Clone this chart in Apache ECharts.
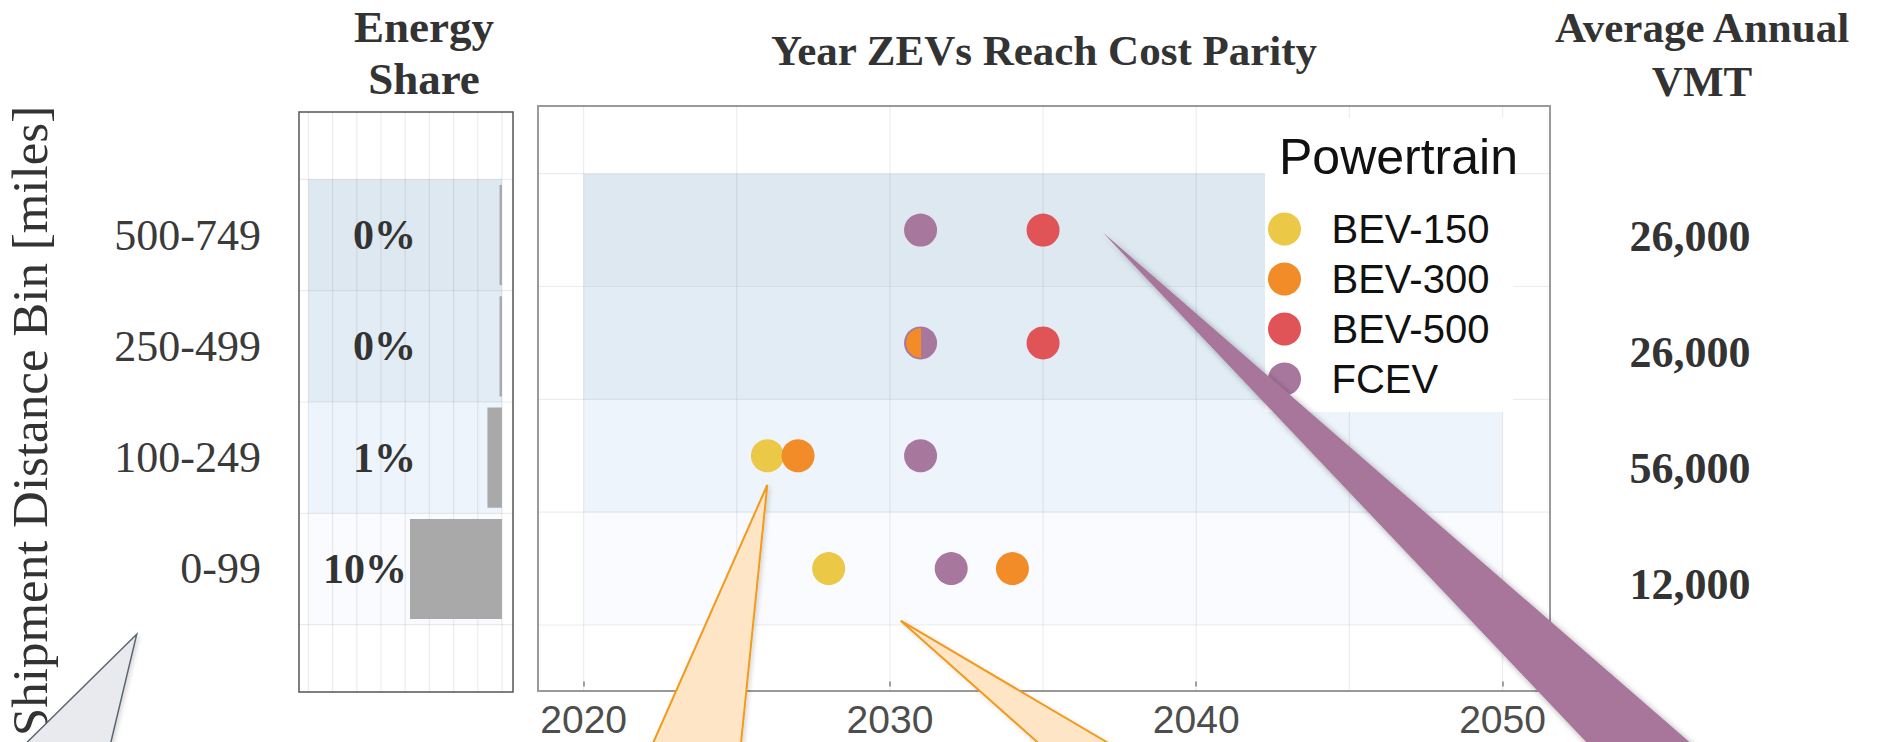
<!DOCTYPE html>
<html>
<head>
<meta charset="utf-8">
<script src="https://cdn.jsdelivr.net/npm/echarts@6/dist/echarts.min.js"></script>
<style>html,body{margin:0;padding:0;background:#fff}#c{width:1887px;height:742px}</style>
</head>
<body>
<div id="c"></div>
<script>
// ---- data ----
const bins = ['0-99', '100-249', '250-499', '500-749'];
const energyShare = [9.5, 1.5, 0.25, 0.25];          // % per bin (bar lengths)
const energyLabels = ['10%', '1%', '0%', '0%'];
const vmtLabels = ['12,000', '56,000', '26,000', '26,000'];
const powertrains = ['BEV-150', 'BEV-300', 'BEV-500', 'FCEV'];
const parityBEV150 = [[2026, '100-249'], [2028, '0-99']];
const parityBEV300 = [[2027, '100-249'], [2034, '0-99'], [2031, '250-499']];
const parityBEV500 = [[2035, '500-749'], [2035, '250-499']];
const parityFCEV = [[2031, '500-749'], [2031, '250-499'], [2031, '100-249'], [2032, '0-99']];
const yearTicks = [2020, 2030, 2040, 2050];
const yearGrid = [2020, 2025, 2030, 2035, 2040, 2045, 2050];
const shareGrid = [0, 2.5, 5, 7.5, 10, 12.5, 15, 17.5, 20];
const binGrid = [0.5, 1.5, 2.5, 3.5, 4.5];
const yearBandRange = [2020, 2050];
const shareBandRange = [0, 20];

// ---- styles ----
const colors = {'BEV-150': '#ebc846', 'BEV-300': '#f28c28', 'BEV-500': '#e05458', 'FCEV': '#a8779e'};
const bandColors = ['#f9fbfe', '#edf4fb', '#e1ecf5', '#dde8f1'];
const serif = '"Liberation Serif", "DejaVu Serif", serif';
const sans = '"Liberation Sans", Arial, sans-serif';
const gridLineColor = 'rgba(0,0,0,0.075)';

const binIdx = b => bins.indexOf(b) + 1;
const rows = bins.map((b, i) => i + 1);

function bandSeries(gridIdx, range) {
  return {
    type: 'custom', xAxisIndex: gridIdx, yAxisIndex: gridIdx, z: 1, silent: true,
    data: rows,
    renderItem: (p, api) => {
      const y = api.value(0);
      const a = api.coord([range[0], y + 0.5]);
      const b = api.coord([range[1], y - 0.5]);
      return {type: 'rect', shape: {x: Math.min(a[0], b[0]), y: a[1], width: Math.abs(b[0] - a[0]), height: b[1] - a[1]},
        style: {fill: bandColors[y - 1]}};
    }
  };
}
function vLines(gridIdx, xs, yr) {
  return {
    type: 'custom', xAxisIndex: gridIdx, yAxisIndex: gridIdx, z: 2, silent: true, data: xs,
    renderItem: (p, api) => {
      const a = api.coord([api.value(0), yr[0]]);
      const b = api.coord([api.value(0), yr[1]]);
      return {type: 'line', shape: {x1: a[0], y1: a[1], x2: b[0], y2: b[1]}, style: {stroke: gridLineColor, lineWidth: 1.2}};
    }
  };
}
function hLines(gridIdx, ys, xr) {
  return {
    type: 'custom', xAxisIndex: gridIdx, yAxisIndex: gridIdx, z: 2, silent: true, data: ys,
    renderItem: (p, api) => {
      const a = api.coord([xr[0], api.value(0)]);
      const b = api.coord([xr[1], api.value(0)]);
      return {type: 'line', shape: {x1: a[0], y1: a[1], x2: b[0], y2: b[1]}, style: {stroke: gridLineColor, lineWidth: 1.2}};
    }
  };
}

const mainX = [2018.51, 2051.55], mainY = [-0.085, 5.1];
const shareX = [-1.14, 20.97], shareY = [-0.105, 5.105];

const fcevKeys = new Set(parityFCEV.map(d => d[0] + '|' + d[1]));
function dots(name, arr, z) {
  return {
    name, type: 'scatter', xAxisIndex: 0, yAxisIndex: 0, z,
    symbol: 'circle', symbolSize: 33, itemStyle: {color: colors[name], opacity: 1},
    emphasis: {disabled: true},
    data: arr.map(d => {
      const item = {value: [d[0], binIdx(d[1])]};
      if (name !== 'FCEV' && fcevKeys.has(d[0] + '|' + d[1])) {
        item.symbol = 'path://M1,0 A1,1 0 0,0 1,2 Z';
        item.symbolSize = [15, 30];
        item.symbolOffset = [-7, 0];
      }
      return item;
    })
  };
}

const option = {
  animation: false,
  grid: [
    {left: 538, top: 106, width: 1012, height: 585, show: true, borderColor: '#9a9a9a', borderWidth: 2, backgroundColor: '#fff'},
    {left: 299, top: 112, width: 214, height: 580, show: true, borderColor: '#555', borderWidth: 1.5, backgroundColor: '#fff'},
    {left: 1600, top: 178, width: 180, height: 464, show: false}
  ],
  xAxis: [
    {gridIndex: 0, type: 'value', min: mainX[0], max: mainX[1], splitLine: {show: false}, axisLine: {show: false},
      axisTick: {show: true, customValues: yearTicks, length: 5, lineStyle: {color: '#888', width: 1.5}},
      axisLabel: {customValues: yearTicks, formatter: v => String(v), fontFamily: sans, fontSize: 39, color: '#4d4d4d', margin: 9}},
    {gridIndex: 1, type: 'value', inverse: true, min: shareX[0], max: shareX[1], show: false},
    {gridIndex: 2, type: 'value', min: 0, max: 1, show: false}
  ],
  yAxis: [
    {gridIndex: 0, type: 'value', min: mainY[0], max: mainY[1], show: false},
    {gridIndex: 1, type: 'value', min: shareY[0], max: shareY[1], splitLine: {show: false}, axisLine: {show: false}, axisTick: {show: false},
      axisLabel: {customValues: rows, formatter: v => bins[Math.round(v) - 1], fontFamily: serif, fontSize: 44, color: '#3a3a3a', margin: 38}},
    {gridIndex: 2, type: 'value', min: 0.5, max: 4.5, show: false}
  ],
  legend: {
    data: powertrains, orient: 'vertical', left: 1265, top: 118,
    backgroundColor: '#fff', padding: [91, 24, 13, 3],
    icon: 'circle', itemWidth: 62, itemHeight: 33, itemGap: 10,
    textStyle: {fontFamily: sans, fontSize: 40, color: '#111', lineHeight: 33, padding: [0, 0, 0, 11]},
    selectedMode: false
  },
  series: [
    bandSeries(0, yearBandRange),
    vLines(0, yearGrid, mainY),
    hLines(0, binGrid, mainX),
    dots('BEV-150', parityBEV150, 3),
    dots('BEV-500', parityBEV500, 3),
    dots('FCEV', parityFCEV, 4),
    dots('BEV-300', parityBEV300, 5),
    bandSeries(1, shareBandRange),
    vLines(1, shareGrid, shareY),
    hLines(1, binGrid, shareX),
    {
      type: 'custom', xAxisIndex: 1, yAxisIndex: 1, z: 3, silent: true,
      data: energyShare.map((v, i) => [v, i + 1]),
      renderItem: (p, api) => {
        const a = api.coord([0, api.value(1) + 0.45]);
        const b = api.coord([api.value(0), api.value(1) - 0.45]);
        return {type: 'rect', shape: {x: Math.min(a[0], b[0]), y: a[1], width: Math.abs(b[0] - a[0]), height: b[1] - a[1]}, style: {fill: '#a9a9a9'}};
      }
    },
    {
      type: 'scatter', xAxisIndex: 1, yAxisIndex: 1, z: 6, symbolSize: 0, silent: true,
      itemStyle: {opacity: 1},
      data: energyShare.map((v, i) => {
        const overlaps = v > 5;
        return {
          value: [overlaps ? v + 0.32 : 15.39, i + 1],
          label: {show: true, position: overlaps ? 'left' : 'right', distance: 0, formatter: energyLabels[i],
            fontFamily: serif, fontWeight: 'bold', fontSize: 42, color: '#333'}
        };
      })
    },
    {
      type: 'scatter', xAxisIndex: 2, yAxisIndex: 2, symbolSize: 0, silent: true,
      itemStyle: {opacity: 1},
      data: vmtLabels.map((t, i) => ({value: [0.5, i + 1],
        label: {show: true, position: 'inside', formatter: t, fontFamily: serif, fontWeight: 'bold', fontSize: 44, color: '#333'}}))
    }
  ],
  graphic: [
    {type: 'text', x: 424, y: 27, z: 100, style: {text: 'Energy', align: 'center', verticalAlign: 'middle', fontFamily: serif, fontWeight: 'bold', fontSize: 45, fill: '#333'}},
    {type: 'text', x: 424, y: 79, z: 100, style: {text: 'Share', align: 'center', verticalAlign: 'middle', fontFamily: serif, fontWeight: 'bold', fontSize: 45, fill: '#333'}},
    {type: 'text', x: 1044, y: 50, z: 100, style: {text: 'Year ZEVs Reach Cost Parity', align: 'center', verticalAlign: 'middle', fontFamily: serif, fontWeight: 'bold', fontSize: 43, fill: '#333'}},
    {type: 'text', x: 1702, y: 27, z: 100, style: {text: 'Average Annual', align: 'center', verticalAlign: 'middle', fontFamily: serif, fontWeight: 'bold', fontSize: 43, fill: '#333'}},
    {type: 'text', x: 1702, y: 81, z: 100, style: {text: 'VMT', align: 'center', verticalAlign: 'middle', fontFamily: serif, fontWeight: 'bold', fontSize: 43, fill: '#333'}},
    {type: 'text', x: 30, y: 421, rotation: Math.PI / 2, z: 100, style: {text: 'Shipment Distance Bin [miles]', align: 'center', verticalAlign: 'middle', fontFamily: serif, fontSize: 51, fill: '#333'}},
    {type: 'text', x: 1279, y: 157, z: 100, style: {text: 'Powertrain', align: 'left', verticalAlign: 'middle', fontFamily: sans, fontSize: 50, fill: '#111'}},
    // callout tails (annotation shapes)
    {type: 'polygon', z: 200, shape: {points: [[136.7, 634.3], [23.3, 746], [110, 746]]},
      style: {fill: '#e8eaed', stroke: '#5b6670', lineWidth: 1.5, shadowBlur: 4, shadowColor: 'rgba(0,0,0,0.15)', shadowOffsetX: 2, shadowOffsetY: 2}},
    {type: 'polygon', z: 200, shape: {points: [[767.3, 485], [651.7, 746], [740.7, 746]]},
      style: {fill: '#fde5c6', stroke: '#f39a1e', lineWidth: 2, shadowBlur: 4, shadowColor: 'rgba(0,0,0,0.15)', shadowOffsetX: 2, shadowOffsetY: 2}},
    {type: 'polygon', z: 200, shape: {points: [[900.7, 620.7], [1041.7, 746], [1113.3, 746]]},
      style: {fill: '#fde5c6', stroke: '#f39a1e', lineWidth: 2, shadowBlur: 4, shadowColor: 'rgba(0,0,0,0.15)', shadowOffsetX: 2, shadowOffsetY: 2}},
    {type: 'polygon', z: 200, shape: {points: [[1102.7, 232.3], [1590, 746], [1694, 746]]},
      style: {fill: '#a8749b', shadowBlur: 6, shadowColor: 'rgba(0,0,0,0.35)', shadowOffsetX: 3, shadowOffsetY: 3}}
  ]
};

const chart = echarts.init(document.getElementById('c'), null, {renderer: 'svg', width: 1887, height: 742});
chart.setOption(option);
</script>
</body>
</html>
